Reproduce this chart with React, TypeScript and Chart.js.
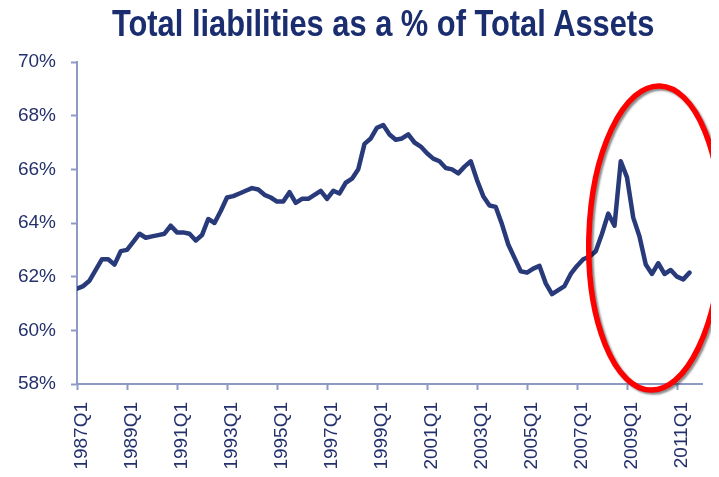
import React, { useEffect, useRef } from "react";
import { Chart, registerables } from "chart.js";

Chart.register(...registerables);

const TITLE = "Total liabilities as a % of Total Assets";
const START_YEAR = 1987;
const TICK_LABELS = [
  "1987Q1", "1989Q1", "1991Q1", "1993Q1", "1995Q1", "1997Q1", "1999Q1",
  "2001Q1", "2003Q1", "2005Q1", "2007Q1", "2009Q1", "2011Q1",
];
// quarterly values, 1987Q1 .. 2011Q3 (%)
const VALUES = [
  61.55, 61.65, 61.85, 62.25, 62.65, 62.65, 62.45, 62.95,
  63.0, 63.3, 63.6, 63.45, 63.5, 63.55, 63.6, 63.9,
  63.65, 63.65, 63.6, 63.35, 63.55, 64.15, 64.0, 64.45,
  64.95, 65.0, 65.1, 65.2, 65.3, 65.25, 65.05, 64.95,
  64.8, 64.8, 65.15, 64.75, 64.9, 64.9, 65.05, 65.2,
  64.9, 65.2, 65.1, 65.5, 65.65, 66.0, 66.95, 67.15,
  67.55, 67.65, 67.3, 67.1, 67.15, 67.3, 67.0, 66.85,
  66.6, 66.4, 66.3, 66.05, 66.0, 65.85, 66.1, 66.3,
  65.6, 65.0, 64.65, 64.6, 63.95, 63.2, 62.7, 62.2,
  62.15, 62.3, 62.4, 61.75, 61.35, 61.5, 61.65, 62.1,
  62.4, 62.65, 62.75, 62.95, 63.6, 64.35, 63.9, 66.3,
  65.7, 64.2, 63.5, 62.45, 62.1, 62.5, 62.1, 62.25,
  62.0, 61.9, 62.15,
];
const Y_MIN = 58;
const Y_MAX = 70;
const Y_STEP = 2;
// highlight ellipse in data units (quarter index, %)
const ELLIPSE_CENTER_Q = 92.5;
const ELLIPSE_CENTER_V = 63.44;
const ELLIPSE_RADIUS_Q = 10.6;
const ELLIPSE_RADIUS_V = 5.67;

const QUARTERS = VALUES.map((_, i) => `${START_YEAR + Math.floor(i / 4)}Q${(i % 4) + 1}`);
const TICK_INDEX = TICK_LABELS.map((l) => QUARTERS.indexOf(l));

const NAVY = "#283a7a";
const LABEL = "#24316c";
const AXIS = "#8e9ac6";
const FONT = "'Liberation Sans', Arial, sans-serif";

const ellipsePlugin = {
  id: "ellipse",
  afterDraw(chart: any) {
    const { ctx, scales } = chart;
    const x = scales.x.getPixelForValue(ELLIPSE_CENTER_Q);
    const y = scales.y.getPixelForValue(ELLIPSE_CENTER_V);
    const rx = scales.x.getPixelForValue(ELLIPSE_CENTER_Q + ELLIPSE_RADIUS_Q) - x;
    const ry = y - scales.y.getPixelForValue(ELLIPSE_CENTER_V + ELLIPSE_RADIUS_V);
    ctx.save();
    ctx.shadowColor = "rgba(0,0,0,0.45)";
    ctx.shadowBlur = 2;
    ctx.shadowOffsetX = 2;
    ctx.shadowOffsetY = 2;
    ctx.strokeStyle = "#ff0000";
    ctx.lineWidth = 5.5;
    ctx.beginPath();
    ctx.ellipse(x, y, rx, ry, 0.03, 0, Math.PI * 2);
    ctx.stroke();
    ctx.restore();
  },
};

export default function App() {
  const ref = useRef<HTMLCanvasElement>(null);
  useEffect(() => {
    if (!ref.current) return;
    const chart = new Chart(ref.current, {
      type: "line",
      data: {
        datasets: [
          {
            data: VALUES.map((v, i) => ({ x: i, y: v })),
            borderColor: NAVY,
            borderWidth: 4.5,
            pointRadius: 0,
            tension: 0,
            borderJoinStyle: "round",
            borderCapStyle: "round",
          },
        ],
      },
      options: {
        animation: false,
        responsive: false,
        layout: { padding: { top: 54, right: 17, left: 0, bottom: 0 } },
        plugins: { legend: { display: false }, tooltip: { enabled: false }, title: { display: false } },
        scales: {
          x: {
            type: "linear",
            min: 0,
            max: 100,
            afterBuildTicks: (scale: any) => {
              scale.ticks = TICK_INDEX.map((v) => ({ value: v }));
            },
            afterFit: (scale: any) => {
              scale.height = 85;
            },
            ticks: {
              autoSkip: false,
              minRotation: 90,
              maxRotation: 90,
              padding: 12,
              labelOffset: 5,
              color: LABEL,
              font: { family: FONT, size: 19 },
              callback: (v: any) => QUARTERS[v] ?? "",
            },
            grid: { drawOnChartArea: false, drawTicks: true, tickLength: 6, tickColor: AXIS, tickWidth: 2 },
            border: { display: true, color: AXIS, width: 2 },
          },
          y: {
            min: Y_MIN,
            max: Y_MAX,
            afterFit: (scale: any) => {
              scale.width = 69;
            },
            ticks: {
              stepSize: Y_STEP,
              padding: 15,
              color: LABEL,
              font: { family: FONT, size: 19 },
              callback: (v: any) => `${v}%`,
            },
            grid: { drawOnChartArea: false, drawTicks: true, tickLength: 6, tickColor: AXIS, tickWidth: 2 },
            border: { display: true, color: AXIS, width: 2 },
          },
        },
      },
      plugins: [ellipsePlugin],
    });
    return () => chart.destroy();
  }, []);

  return (
    <div style={{ position: "relative", width: 711, height: 461 }}>
      <canvas ref={ref} width={711} height={461} style={{ display: "block" }} />
      <div
        style={{
          position: "absolute",
          top: -2,
          left: 104,
          transformOrigin: "0 0",
          transform: "scaleX(0.856)",
          fontFamily: FONT,
          fontWeight: "bold",
          fontSize: 36,
          lineHeight: "36px",
          color: "#1a2d6e",
          whiteSpace: "nowrap",
        }}
      >
        {TITLE}
      </div>
    </div>
  );
}
